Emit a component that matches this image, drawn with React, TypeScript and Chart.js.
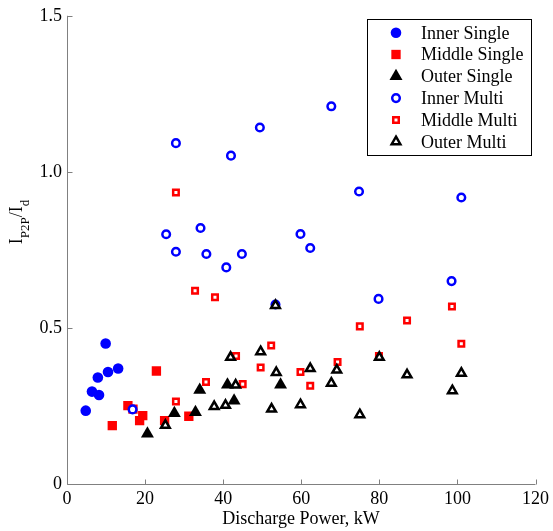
import React, { useEffect, useRef } from 'react';
import { Chart, registerables } from 'chart.js';

Chart.register(...registerables);

const FONT = '"Liberation Serif", "Times New Roman", Times, serif';

// ---- Data ----
const innerSingleX = [4.8, 6.4, 8.2, 7.9, 10.5, 13.1, 9.9];
const innerSingleY = [0.235, 0.296, 0.285, 0.341, 0.359, 0.37, 0.45];

const middleSingleX = [11.6, 15.6, 16.9, 18.6, 19.4, 22.9, 25.0, 31.2];
const middleSingleY = [0.187, 0.251, 0.24, 0.203, 0.219, 0.362, 0.203, 0.217];

const outerSingleX = [20.6, 27.5, 32.9, 34.0, 41.1, 42.8, 54.7];
const outerSingleY = [0.161, 0.227, 0.23, 0.301, 0.318, 0.267, 0.318];

const innerMultiX = [16.8, 25.4, 27.9, 27.9, 34.2, 35.7, 40.8, 42.0, 44.8, 49.4, 53.4, 59.8, 62.3, 67.7, 74.8, 79.8, 98.5, 101.0];
const innerMultiY = [0.239, 0.8, 0.744, 1.092, 0.82, 0.737, 0.694, 1.052, 0.737, 1.142, 0.575, 0.801, 0.756, 1.21, 0.937, 0.593, 0.65, 0.918];

const middleMultiX = [27.9, 27.9, 32.8, 35.6, 37.9, 43.3, 45.0, 49.6, 52.3, 59.8, 62.3, 69.3, 75.0, 79.9, 87.1, 98.6, 101.0];
const middleMultiY = [0.264, 0.934, 0.619, 0.327, 0.598, 0.41, 0.32, 0.373, 0.444, 0.359, 0.315, 0.391, 0.505, 0.41, 0.524, 0.569, 0.449];

const outerMultiX = [25.2, 37.7, 40.6, 43.2, 41.9, 49.6, 52.4, 53.4, 53.6, 59.8, 62.3, 67.7, 69.1, 75.0, 80.0, 87.1, 98.7, 101.0];
const outerMultiY = [0.188, 0.248, 0.252, 0.317, 0.406, 0.424, 0.24, 0.572, 0.357, 0.254, 0.37, 0.323, 0.365, 0.222, 0.406, 0.35, 0.299, 0.355];

const xTicks = [0, 20, 40, 60, 80, 100, 120];
const yTicks = [0, 0.5, 1, 1.5];

const xTitle = 'Discharge Power, kW';

type Series = {
  label: string;
  xs: number[];
  ys: number[];
  style: 'circle' | 'rect' | 'triangle';
  color: string;
  filled: boolean;
  radius: number;
};

const series: Series[] = [
  { label: 'Inner Single', xs: innerSingleX, ys: innerSingleY, style: 'circle', color: '#0000ff', filled: true, radius: 5.3 },
  { label: 'Middle Single', xs: middleSingleX, ys: middleSingleY, style: 'rect', color: '#ff0000', filled: true, radius: 6.6 },
  { label: 'Outer Single', xs: outerSingleX, ys: outerSingleY, style: 'triangle', color: '#000000', filled: true, radius: 7.5 },
  { label: 'Inner Multi', xs: innerMultiX, ys: innerMultiY, style: 'circle', color: '#0000ff', filled: false, radius: 3.8 },
  { label: 'Middle Multi', xs: middleMultiX, ys: middleMultiY, style: 'rect', color: '#ff0000', filled: false, radius: 3.9 },
  { label: 'Outer Multi', xs: outerMultiX, ys: outerMultiY, style: 'triangle', color: '#000000', filled: false, radius: 5 },
];

const HOLLOW_LW = 2.5;

function drawMarker(ctx: CanvasRenderingContext2D, s: Series, x: number, y: number) {
  const r = s.radius;
  ctx.beginPath();
  if (s.style === 'circle') {
    ctx.arc(x, y, r, 0, Math.PI * 2);
  } else if (s.style === 'rect') {
    const h = Math.SQRT1_2 * r;
    ctx.rect(x - h, y - h, 2 * h, 2 * h);
  } else {
    let rad = 0;
    const T = (2 * Math.PI) / 3;
    ctx.moveTo(x + Math.sin(rad) * r, y - Math.cos(rad) * r);
    rad += T;
    ctx.lineTo(x + Math.sin(rad) * r, y - Math.cos(rad) * r);
    rad += T;
    ctx.lineTo(x + Math.sin(rad) * r, y - Math.cos(rad) * r);
    ctx.closePath();
  }
  if (s.filled) {
    ctx.fillStyle = s.color;
    ctx.fill();
  } else {
    ctx.fillStyle = '#ffffff';
    ctx.fill();
    ctx.lineWidth = HOLLOW_LW;
    ctx.strokeStyle = s.color;
    ctx.stroke();
  }
}

const matlabPlugin = {
  id: 'matlabLook',
  beforeDatasetsDraw(chart: any) {
    const { ctx, chartArea, scales } = chart;
    const xs = scales.x;
    const ys = scales.y;
    ctx.save();
    ctx.strokeStyle = '#808080';
    ctx.lineWidth = 1;
    ctx.beginPath();
    const left = Math.round(chartArea.left) + 0.5;
    const bottom = Math.round(chartArea.bottom) + 0.5;
    ctx.moveTo(left, chartArea.top);
    ctx.lineTo(left, bottom);
    ctx.lineTo(chartArea.right, bottom);
    for (const t of xTicks) {
      const px = Math.round(xs.getPixelForValue(t)) + 0.5;
      ctx.moveTo(px, bottom);
      ctx.lineTo(px, bottom - 5);
    }
    for (const t of yTicks) {
      const py = Math.round(ys.getPixelForValue(t)) + 0.5;
      ctx.moveTo(left, py);
      ctx.lineTo(left + 5, py);
    }
    ctx.stroke();
    ctx.restore();
  },
  afterDraw(chart: any) {
    const { ctx } = chart;
    ctx.save();
    // X title
    ctx.fillStyle = '#000';
    ctx.font = `18px ${FONT}`;
    ctx.textAlign = 'center';
    ctx.textBaseline = 'alphabetic';
    ctx.fillText(xTitle, 301, 524);

    // Y title with subscripts
    ctx.save();
    ctx.translate(22, 222);
    ctx.rotate(-Math.PI / 2);
    ctx.textAlign = 'left';
    const big = `18px ${FONT}`;
    const small = `13px ${FONT}`;
    const parts: [string, string, number][] = [
      ['I', big, 0],
      ['P2P', small, 7],
      ['/I', big, 0],
      ['d', small, 7],
    ];
    let total = 0;
    for (const [t, f] of parts) {
      ctx.font = f;
      total += ctx.measureText(t).width;
    }
    let cx = -total / 2;
    for (const [t, f, dy] of parts) {
      ctx.font = f;
      ctx.fillText(t, cx, dy);
      cx += ctx.measureText(t).width;
    }
    ctx.restore();

    // Legend
    const lx = 367.5, ly = 19.5, lw = 164, lh = 136;
    ctx.fillStyle = '#ffffff';
    ctx.fillRect(lx, ly, lw, lh);
    ctx.strokeStyle = '#000';
    ctx.lineWidth = 1;
    ctx.strokeRect(lx, ly, lw, lh);
    ctx.font = `18px ${FONT}`;
    ctx.textAlign = 'left';
    ctx.textBaseline = 'alphabetic';
    series.forEach((s, i) => {
      const yy = 32.7 + i * 21.8;
      drawMarker(ctx, s, 396, yy);
      ctx.fillStyle = '#000';
      ctx.fillText(s.label, 421, yy + 5.8);
    });
    ctx.restore();
  },
};

export default function App() {
  const canvasRef = useRef<HTMLCanvasElement | null>(null);

  useEffect(() => {
    const canvas = canvasRef.current;
    if (!canvas) return;
    const datasets = series.map((s, i) => ({
      label: s.label,
      data: s.xs.map((x, k) => ({ x, y: s.ys[k] })),
      showLine: false,
      pointStyle: s.style,
      pointRadius: s.radius,
      pointHoverRadius: s.radius,
      pointBackgroundColor: s.filled ? s.color : '#ffffff',
      pointBorderColor: s.color,
      pointBorderWidth: s.filled ? 0 : HOLLOW_LW,
      order: 10 - i,
    }));
    const chart = new Chart(canvas, {
      type: 'scatter',
      data: { datasets },
      options: {
        responsive: false,
        animation: false,
        events: [],
        layout: { padding: { top: 12, right: 15, left: 0, bottom: 0 } },
        plugins: {
          legend: { display: false },
          tooltip: { enabled: false },
        },
        scales: {
          x: {
            type: 'linear',
            min: 0,
            max: 120,
            grid: { display: false, drawTicks: false },
            border: { display: false },
            afterBuildTicks: (scale: any) => {
              scale.ticks = xTicks.map((v) => ({ value: v }));
            },
            ticks: {
              color: '#000',
              font: { family: FONT, size: 18 },
              padding: 4,
              maxRotation: 0,
              autoSkip: false,
            },
            afterFit: (scale: any) => {
              scale.height = 47;
            },
          },
          y: {
            type: 'linear',
            min: 0,
            max: 1.5,
            grid: { display: false, drawTicks: false },
            border: { display: false },
            afterBuildTicks: (scale: any) => {
              scale.ticks = yTicks.map((v) => ({ value: v }));
            },
            ticks: {
              color: '#000',
              font: { family: FONT, size: 18 },
              padding: 5,
              autoSkip: false,
            },
            afterFit: (scale: any) => {
              scale.width = 67;
            },
          },
        },
      } as any,
      plugins: [matlabPlugin],
    });
    return () => chart.destroy();
  }, []);

  return (
    <canvas
      ref={canvasRef}
      width={553}
      height={531}
      style={{ position: 'absolute', left: 0, top: 0, width: 553, height: 531 }}
    />
  );
}
